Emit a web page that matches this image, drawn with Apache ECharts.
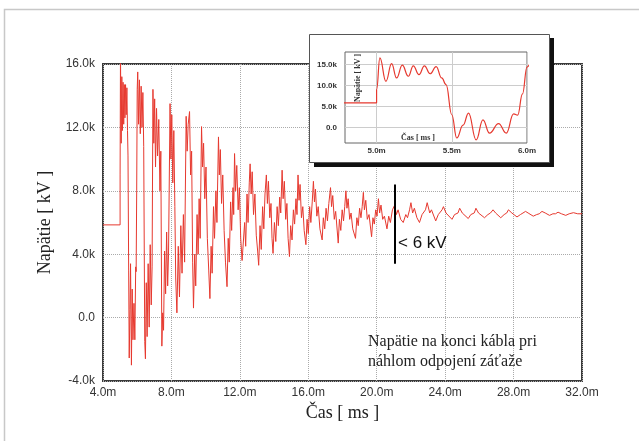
<!DOCTYPE html>
<html>
<head>
<meta charset="utf-8">
<title>Napätie na konci kábla</title>
<script src="https://cdn.jsdelivr.net/npm/echarts@6.0.0/dist/echarts.min.js"></script>
<style>
    html, body { margin: 0; padding: 0; background: #fff; }
    #chart { width: 639px; height: 441px; }
</style>
</head>
<body>
<div id="chart"></div>
<script>
// osi hlavneho grafu
const xTicks = [4, 8, 12, 16, 20, 24, 28, 32]; // ms
const yTicks = [-4, 0, 4, 8, 12, 16]; // kV
// osi vyrezu (inset)
const insetXTicks = [5.0, 5.5, 6.0];
const insetYTicks = [0, 5, 10, 15];

// napatie na konci kabla [cas ms, napatie kV] - odcitane z obrazku
const napatie = [
    [4.0, 5.85], [5.0, 5.85], [5.0, 9.0], [5.022, 16.6], [5.062, 11.0], [5.10, 15.2], [5.133, 11.8],
    [5.171, 14.85], [5.211, 12.2], [5.244, 14.7], [5.282, 12.6], [5.318, 14.7], [5.356, 12.8],
    [5.396, 14.5], [5.433, 11.8], [5.462, 10.2], [5.50, 3.0], [5.533, -2.55], [5.575, 0.5], [5.611, 3.4],
    [5.662, -3.0], [5.707, 1.8], [5.751, -1.4], [5.811, 0.9], [5.862, -1.4], [5.911, 3.2],
    [5.938, 2.9], [5.97, 8.0], [6.0, 14.4],
    // 2
    [6.03, 15.5], [6.08, 12.2], [6.13, 15.0], [6.18, 11.6], [6.23, 14.6], [6.28, 12.0], [6.33, 14.2],
    [6.38, 10.8], [6.44, -1.5], [6.48, -2.6], [6.53, 2.2], [6.58, -1.2], [6.64, 3.4], [6.70, -0.6],
    [6.76, 4.6], [6.82, 0.8], [6.87, 3.2],
    // 3
    [6.92, 14.4], [6.97, 11.0], [7.02, 13.8], [7.07, 9.5], [7.13, 13.2], [7.19, 10.2], [7.26, 12.5],
    [7.33, 8.0], [7.38, 10.5], [7.44, -1.8], [7.49, 0.3], [7.54, -0.8], [7.60, 4.2], [7.66, 1.5],
    [7.72, 5.4], [7.78, 2.0], [7.83, 4.0],
    // 4
    [7.92, 13.5], [7.97, 10.0], [8.02, 12.8], [8.08, 8.5], [8.14, 11.8], [8.20, 7.0], [8.25, 2.5],
    [8.32, 0.3], [8.40, 4.5], [8.47, 1.3], [8.55, 5.8], [8.62, 2.8], [8.70, 6.5], [8.77, 3.5],
    // 5
    [8.86, 12.7], [8.92, 10.5], [8.98, 12.2], [9.06, 13.0], [9.12, 9.0], [9.18, 10.5], [9.24, 3.5],
    [9.29, 0.6], [9.36, 4.0], [9.42, 2.0], [9.50, 6.5], [9.56, 4.0], [9.62, 7.5], [9.68, 5.0],
    // 6
    [9.76, 12.05], [9.82, 9.5], [9.88, 11.0], [9.95, 7.5], [10.02, 9.5], [10.10, 5.0], [10.18, 3.0],
    [10.25, 1.2], [10.32, 4.5], [10.38, 2.8], [10.46, 7.0], [10.52, 5.0], [10.60, 8.0], [10.66, 6.0],
    // 7
    [10.75, 11.4], [10.80, 9.0], [10.86, 10.6], [10.93, 7.2], [11.00, 9.0], [11.08, 5.5], [11.16, 3.5],
    [11.25, 1.95], [11.32, 5.0], [11.38, 3.5], [11.46, 7.3], [11.52, 5.5], [11.60, 8.2], [11.64, 6.5],
    // 8
    [11.69, 10.35], [11.75, 8.0], [11.82, 9.6], [11.90, 6.8], [11.97, 8.2], [12.05, 5.0], [12.13, 3.6],
    [12.22, 3.5], [12.28, 6.0], [12.34, 4.5], [12.42, 7.8], [12.48, 6.0], [12.55, 8.5],
    // 9
    [12.60, 9.7], [12.66, 7.8], [12.72, 9.2], [12.80, 6.5], [12.88, 7.8], [12.96, 5.2], [13.04, 4.2],
    [13.10, 3.3], [13.18, 5.8], [13.25, 4.3], [13.33, 7.0], [13.40, 5.6], [13.47, 7.8],
    // 10
    [13.55, 9.0], [13.61, 7.2], [13.67, 8.6], [13.75, 6.3], [13.82, 7.2], [13.88, 5.0], [13.94, 4.05],
    [14.02, 6.0], [14.10, 4.8], [14.18, 7.0], [14.25, 5.8], [14.33, 7.6], [14.39, 6.6],
    // 11
    [14.47, 9.3], [14.53, 7.5], [14.60, 8.6], [14.68, 6.2], [14.75, 7.2], [14.82, 5.0], [14.90, 3.85],
    [14.97, 5.8], [15.05, 4.9], [15.13, 6.8], [15.20, 5.9], [15.28, 7.5], [15.34, 6.5],
    // 12
    [15.40, 9.0], [15.46, 7.4], [15.52, 8.4], [15.60, 6.3], [15.68, 7.0], [15.76, 5.5], [15.86, 4.6],
    [15.93, 6.2], [16.00, 5.3], [16.08, 7.0], [16.15, 6.0], [16.23, 7.3],
    // 13
    [16.30, 8.6], [16.36, 7.3], [16.42, 8.1], [16.50, 6.4], [16.58, 7.0], [16.68, 5.6], [16.81, 4.9],
    [16.88, 6.3], [16.96, 5.6], [17.04, 6.9], [17.12, 6.1], [17.20, 7.2],
    // 14
    [17.30, 8.2], [17.36, 7.0], [17.43, 7.7], [17.52, 6.2], [17.60, 6.7], [17.75, 4.7], [17.82, 6.2],
    [17.90, 5.5], [17.98, 6.8], [18.06, 6.1], [18.13, 7.0],
    // 15
    [18.20, 8.0], [18.26, 6.9], [18.33, 7.5], [18.42, 6.2], [18.50, 6.6], [18.60, 5.6], [18.76, 5.0],
    [18.84, 6.3], [18.92, 5.8], [19.00, 6.9], [19.08, 6.3], [19.15, 7.0],
    // 16
    [19.22, 7.9], [19.28, 6.8], [19.36, 7.4], [19.45, 6.2], [19.55, 6.5], [19.70, 5.1], [19.78, 6.3],
    [19.86, 5.9], [19.94, 6.8], [20.02, 6.4],
    // 17
    [20.10, 7.5], [20.17, 6.6], [20.25, 7.1], [20.35, 6.2], [20.45, 6.4], [20.60, 5.6], [20.70, 6.4],
    [20.80, 6.0], [20.92, 6.8],
    // 18 - ...
    [21.05, 7.1], [21.15, 6.5], [21.25, 6.8], [21.40, 6.2], [21.55, 6.0], [21.70, 6.5], [21.80, 6.3], [21.92, 6.8],
    [22.00, 7.25], [22.10, 6.6], [22.20, 6.9], [22.35, 6.3], [22.50, 6.0], [22.65, 6.5], [22.75, 6.4], [22.85, 6.8],
    [22.95, 7.25], [23.10, 6.6], [23.20, 6.8], [23.45, 6.1], [23.60, 6.5], [23.70, 6.4], [23.82, 6.8],
    [23.90, 7.0], [24.05, 6.6], [24.15, 6.7], [24.40, 6.2], [24.55, 6.5], [24.75, 6.6],
    [24.85, 6.9], [25.00, 6.6], [25.35, 6.25], [25.50, 6.5], [25.70, 6.6],
    [25.80, 6.9], [25.95, 6.6], [26.30, 6.3], [26.50, 6.5], [26.65, 6.6],
    [26.80, 6.8], [26.95, 6.6], [27.25, 6.3], [27.45, 6.5], [27.60, 6.6],
    [27.70, 6.8], [27.90, 6.6], [28.20, 6.35], [28.40, 6.5], [28.55, 6.6],
    [28.70, 6.7], [28.85, 6.6], [29.15, 6.4], [29.35, 6.5], [29.50, 6.55],
    [29.66, 6.7], [29.85, 6.6], [30.10, 6.45], [30.30, 6.55], [30.45, 6.55],
    [30.60, 6.65], [30.80, 6.55], [31.05, 6.45], [31.25, 6.55], [31.50, 6.62], [31.75, 6.55], [32.0, 6.55]
];

// zvyraznenie poklesu pod 6 kV
const markTime = 21.05;
const markFrom = 8.4;
const markTo = 3.4;

const red = '#e6392f';
const serif = '"Liberation Serif", "Times New Roman", serif';
const sans = '"Liberation Sans", Arial, sans-serif';

function kLabel(v) {
    return v === 0 ? '0.0' : v.toFixed(1) + 'k';
}

const chart = echarts.init(document.getElementById('chart'));

const option = {
    backgroundColor: '#fff',
    animation: false,
    grid: [
        {
            left: 103, right: 57, top: 64, bottom: 60,
            show: true, borderColor: '#3a3a3a', borderWidth: 2,
            outerBoundsMode: 'none'
        },
        {
            left: 345, width: 182, top: 52, height: 91,
            show: true, borderColor: '#666', borderWidth: 1, backgroundColor: '#fff',
            z: 52, outerBoundsMode: 'none'
        }
    ],
    xAxis: [
        {
            type: 'value', gridIndex: 0,
            min: xTicks[0], max: xTicks[xTicks.length - 1], interval: 4,
            name: 'Čas [ ms ]', nameLocation: 'middle', nameGap: 22,
            nameTextStyle: { fontFamily: serif, fontSize: 18, color: '#222' },
            axisLine: { show: false },
            axisTick: { show: false },
            axisLabel: {
                margin: 6, color: '#333', fontFamily: sans, fontSize: 12,
                formatter: v => v.toFixed(1) + 'm'
            },
            splitLine: { show: true, lineStyle: { color: '#aaa', type: 'dotted', width: 1 } }
        },
        {
            type: 'value', gridIndex: 1, z: 53,
            min: 4.79, max: 6.0,
            axisLine: { show: false },
            axisTick: { show: false, customValues: insetXTicks },
            axisLabel: {
                customValues: insetXTicks, margin: 4, color: '#333',
                fontFamily: sans, fontSize: 8, fontWeight: 'bold',
                formatter: v => v.toFixed(1) + 'm'
            },
            splitLine: { show: true, lineStyle: { color: '#ccc', width: 1 } }
        }
    ],
    yAxis: [
        {
            type: 'value', gridIndex: 0,
            min: yTicks[0], max: yTicks[yTicks.length - 1], interval: 4,
            name: 'Napätie [ kV ]', nameLocation: 'middle', nameGap: 36, nameRotate: 90,
            nameTextStyle: { fontFamily: serif, fontSize: 18, color: '#222' },
            axisLine: { show: false },
            axisTick: { show: false },
            axisLabel: {
                margin: 8, color: '#333', fontFamily: sans, fontSize: 12,
                formatter: kLabel
            },
            splitLine: { show: true, lineStyle: { color: '#aaa', type: 'dotted', width: 1 } }
        },
        {
            type: 'value', gridIndex: 1, z: 53,
            min: -3.75, max: 18,
            axisLine: { show: false },
            axisTick: { show: false, customValues: insetYTicks },
            axisLabel: {
                customValues: insetYTicks, margin: 8, color: '#333',
                fontFamily: sans, fontSize: 8, fontWeight: 'bold',
                formatter: kLabel
            },
            splitLine: { show: true, lineStyle: { color: '#ccc', width: 1 } }
        }
    ],
    series: [
        {
            type: 'line', xAxisIndex: 0, yAxisIndex: 0,
            data: napatie, showSymbol: false, clip: true,
            lineStyle: { color: red, width: 1 },
            markLine: {
                silent: true, symbol: 'none', animation: false,
                lineStyle: { color: '#000', width: 2, type: 'solid' },
                label: { show: false },
                data: [[{ coord: [markTime, markFrom] }, { coord: [markTime, markTo] }]]
            }
        },
        {
            // vyrez - ta ista krivka, zhladena
            type: 'line', xAxisIndex: 1, yAxisIndex: 1, z: 54,
            data: napatie, showSymbol: false, clip: true,
            smooth: 0.45, smoothMonotone: 'x',
            lineStyle: { color: red, width: 1.2 }
        }
    ],
    graphic: [
        // ram okolo obrazku
        { type: 'rect', z: 0, shape: { x: 4.5, y: 9.5, width: 700, height: 500 },
          style: { fill: 'none', stroke: '#c8c8c8', lineWidth: 1.5 } },
        // tien a podklad vyrezu
        { type: 'rect', z: 50, shape: { x: 314, y: 38, width: 240, height: 129 }, style: { fill: '#111' } },
        { type: 'rect', z: 51, shape: { x: 309.5, y: 34.5, width: 240, height: 128 },
          style: { fill: '#fff', stroke: '#555', lineWidth: 1 } },
        { type: 'text', z: 60, x: 358, y: 78, rotation: Math.PI / 2,
          style: { text: 'Napätie [ kV ]', font: 'bold 8px ' + serif, fill: '#333',
                   textAlign: 'center', textVerticalAlign: 'middle' } },
        { type: 'text', z: 60, x: 418, y: 138,
          style: { text: 'Čas [ ms ]', font: 'bold 8px ' + serif, fill: '#333',
                   textAlign: 'center', textVerticalAlign: 'middle' } },
        // popisy
        { type: 'text', z: 10, x: 398, y: 243,
          style: { text: '< 6 kV', font: '17px ' + sans, fill: '#111', textVerticalAlign: 'middle' } },
        { type: 'text', z: 10, x: 368, y: 342,
          style: { text: 'Napätie na konci kábla pri', font: '16px ' + serif, fill: '#222', textVerticalAlign: 'middle' } },
        { type: 'text', z: 10, x: 368, y: 362,
          style: { text: 'náhlom odpojení záťaže', font: '16px ' + serif, fill: '#222', textVerticalAlign: 'middle' } }
    ]
};

chart.setOption(option);
</script>
</body>
</html>
